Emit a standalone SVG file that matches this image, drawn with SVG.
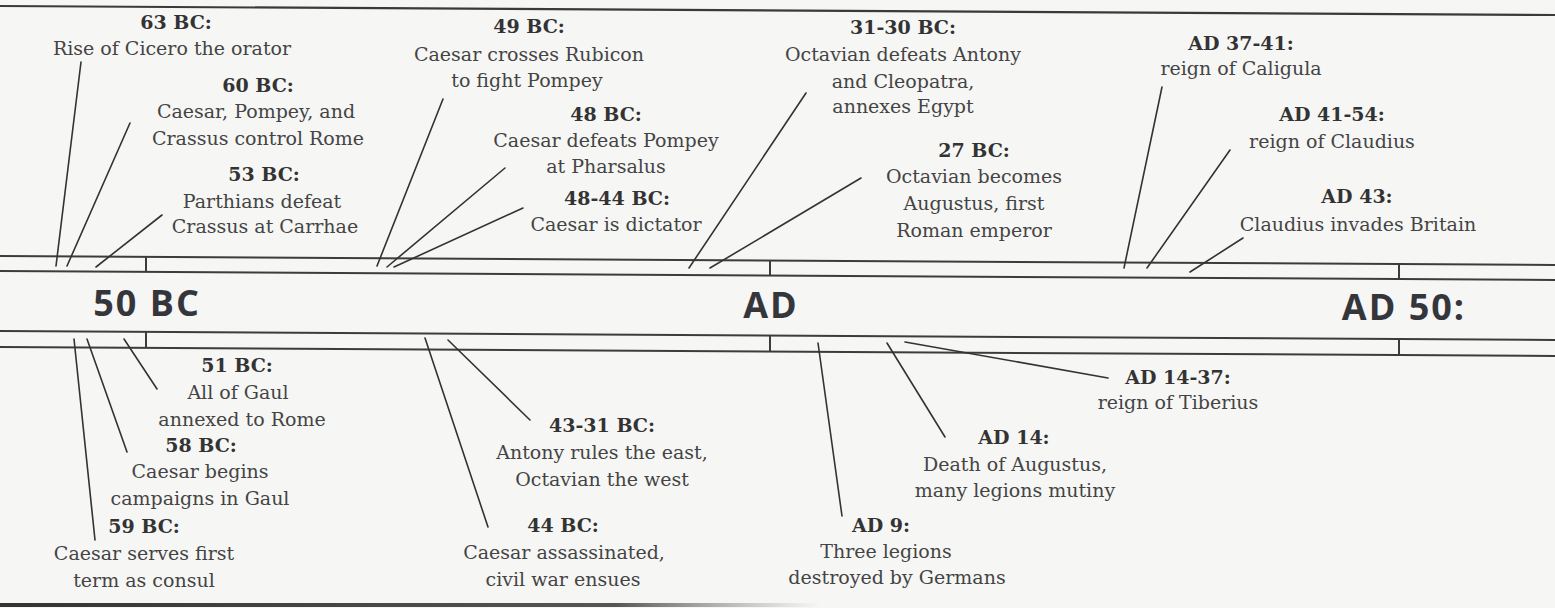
<svg xmlns="http://www.w3.org/2000/svg" width="1555" height="608" viewBox="0 0 1555 608">
<style>
.bg{fill:#f6f6f5}
.rule{stroke:#3a3a3a;stroke-width:2.2;fill:none}
.band{stroke:#3c3c3c;stroke-width:2;fill:none}
.tick{stroke:#3c3c3c;stroke-width:2}
.lead{stroke:#333;stroke-width:1.6;fill:none;stroke-linecap:round}
text{font-family:"DejaVu Serif","Liberation Serif",serif;font-size:19px;fill:#444;text-anchor:middle}
.yr{font-weight:bold;fill:#333}
.era{font-family:"Open Sans","Liberation Sans",sans-serif;font-weight:700;font-size:36px;fill:#35363c;letter-spacing:2px}
</style>
<defs>
<linearGradient id="fade" x1="0" y1="0" x2="1" y2="0">
<stop offset="0" stop-color="#333" stop-opacity="1"/>
<stop offset="0.75" stop-color="#444" stop-opacity="0.9"/>
<stop offset="1" stop-color="#777" stop-opacity="0"/>
</linearGradient>
</defs>
<rect class="bg" x="0" y="0" width="1555" height="608"/>
<g id="frame">
<line class="rule" x1="0" y1="6" x2="1555" y2="15"/>
<rect x="0" y="603" width="820" height="4" fill="url(#fade)"/>
</g>
<g id="timeline">
<line class="band" x1="0" y1="256" x2="1555" y2="265"/>
<line class="band" x1="0" y1="271" x2="1555" y2="280"/>
<line class="band" x1="0" y1="331" x2="1555" y2="340"/>
<line class="band" x1="0" y1="347" x2="1555" y2="356"/>
<line class="tick" x1="146" y1="256.8" x2="146" y2="271.8"/>
<line class="tick" x1="146" y1="331.8" x2="146" y2="347.8"/>
<line class="tick" x1="770" y1="260.5" x2="770" y2="275.5"/>
<line class="tick" x1="770" y1="335.5" x2="770" y2="351.5"/>
<line class="tick" x1="1399" y1="264.1" x2="1399" y2="279.1"/>
<line class="tick" x1="1399" y1="339.1" x2="1399" y2="355.1"/>
<text class="era" x="147" y="316">50 BC</text>
<text class="era" x="771" y="318">AD</text>
<text class="era" x="1404" y="320">AD 50:</text>
</g>
<g id="connectors">
<line class="lead" x1="81" y1="62" x2="56" y2="266"/>
<line class="lead" x1="130" y1="123" x2="67" y2="266"/>
<line class="lead" x1="162" y1="215" x2="96" y2="267"/>
<line class="lead" x1="443" y1="99" x2="377" y2="266"/>
<line class="lead" x1="505" y1="168" x2="387" y2="267"/>
<line class="lead" x1="523" y1="208" x2="394" y2="267"/>
<line class="lead" x1="806" y1="93" x2="689" y2="268"/>
<line class="lead" x1="861" y1="178" x2="710" y2="268"/>
<line class="lead" x1="1162" y1="87" x2="1124" y2="268"/>
<line class="lead" x1="1230" y1="150" x2="1147" y2="268"/>
<line class="lead" x1="1243" y1="238" x2="1190" y2="272"/>
<line class="lead" x1="124" y1="339" x2="157" y2="389"/>
<line class="lead" x1="87" y1="339" x2="127" y2="452"/>
<line class="lead" x1="74" y1="339" x2="95" y2="540"/>
<line class="lead" x1="425" y1="338" x2="488" y2="527"/>
<line class="lead" x1="448" y1="340" x2="530" y2="420"/>
<line class="lead" x1="818" y1="343" x2="842" y2="516"/>
<line class="lead" x1="887" y1="343" x2="945" y2="437"/>
<line class="lead" x1="905" y1="342" x2="1108" y2="378"/>
</g>
<g id="e63bc"><text class="yr" x="176" y="29">63 BC:</text><text x="172" y="55">Rise of Cicero the orator</text></g>
<g id="e60bc"><text class="yr" x="258" y="92">60 BC:</text><text x="256" y="118">Caesar, Pompey, and</text><text x="258" y="145">Crassus control Rome</text></g>
<g id="e53bc"><text class="yr" x="264" y="181">53 BC:</text><text x="262" y="208">Parthians defeat</text><text x="265" y="233">Crassus at Carrhae</text></g>
<g id="e49bc"><text class="yr" x="529" y="33">49 BC:</text><text x="529" y="61">Caesar crosses Rubicon</text><text x="527" y="87">to fight Pompey</text></g>
<g id="e48bc"><text class="yr" x="606" y="121">48 BC:</text><text x="606" y="147">Caesar defeats Pompey</text><text x="606" y="173">at Pharsalus</text></g>
<g id="e48_44bc"><text class="yr" x="617" y="205">48-44 BC:</text><text x="616" y="231">Caesar is dictator</text></g>
<g id="e31_30bc"><text class="yr" x="903" y="34">31-30 BC:</text><text x="903" y="61">Octavian defeats Antony</text><text x="903" y="88">and Cleopatra,</text><text x="903" y="113">annexes Egypt</text></g>
<g id="e27bc"><text class="yr" x="974" y="157">27 BC:</text><text x="974" y="183">Octavian becomes</text><text x="974" y="210">Augustus, first</text><text x="974" y="237">Roman emperor</text></g>
<g id="ead37_41"><text class="yr" x="1241" y="50">AD 37-41:</text><text x="1241" y="75">reign of Caligula</text></g>
<g id="ead41_54"><text class="yr" x="1332" y="121">AD 41-54:</text><text x="1332" y="148">reign of Claudius</text></g>
<g id="ead43"><text class="yr" x="1357" y="203">AD 43:</text><text x="1358" y="231">Claudius invades Britain</text></g>
<g id="e51bc"><text class="yr" x="237" y="372">51 BC:</text><text x="238" y="399">All of Gaul</text><text x="242" y="426">annexed to Rome</text></g>
<g id="e58bc"><text class="yr" x="201" y="452">58 BC:</text><text x="200" y="478">Caesar begins</text><text x="200" y="505">campaigns in Gaul</text></g>
<g id="e59bc"><text class="yr" x="144" y="533">59 BC:</text><text x="144" y="560">Caesar serves first</text><text x="144" y="587">term as consul</text></g>
<g id="e43_31bc"><text class="yr" x="602" y="432">43-31 BC:</text><text x="602" y="459">Antony rules the east,</text><text x="602" y="486">Octavian the west</text></g>
<g id="e44bc"><text class="yr" x="563" y="532">44 BC:</text><text x="564" y="559">Caesar assassinated,</text><text x="563" y="586">civil war ensues</text></g>
<g id="ead9"><text class="yr" x="881" y="532">AD 9:</text><text x="886" y="558">Three legions</text><text x="897" y="584">destroyed by Germans</text></g>
<g id="ead14"><text class="yr" x="1014" y="444">AD 14:</text><text x="1015" y="471">Death of Augustus,</text><text x="1015" y="497">many legions mutiny</text></g>
<g id="ead14_37"><text class="yr" x="1178" y="384">AD 14-37:</text><text x="1178" y="409">reign of Tiberius</text></g>
</svg>
